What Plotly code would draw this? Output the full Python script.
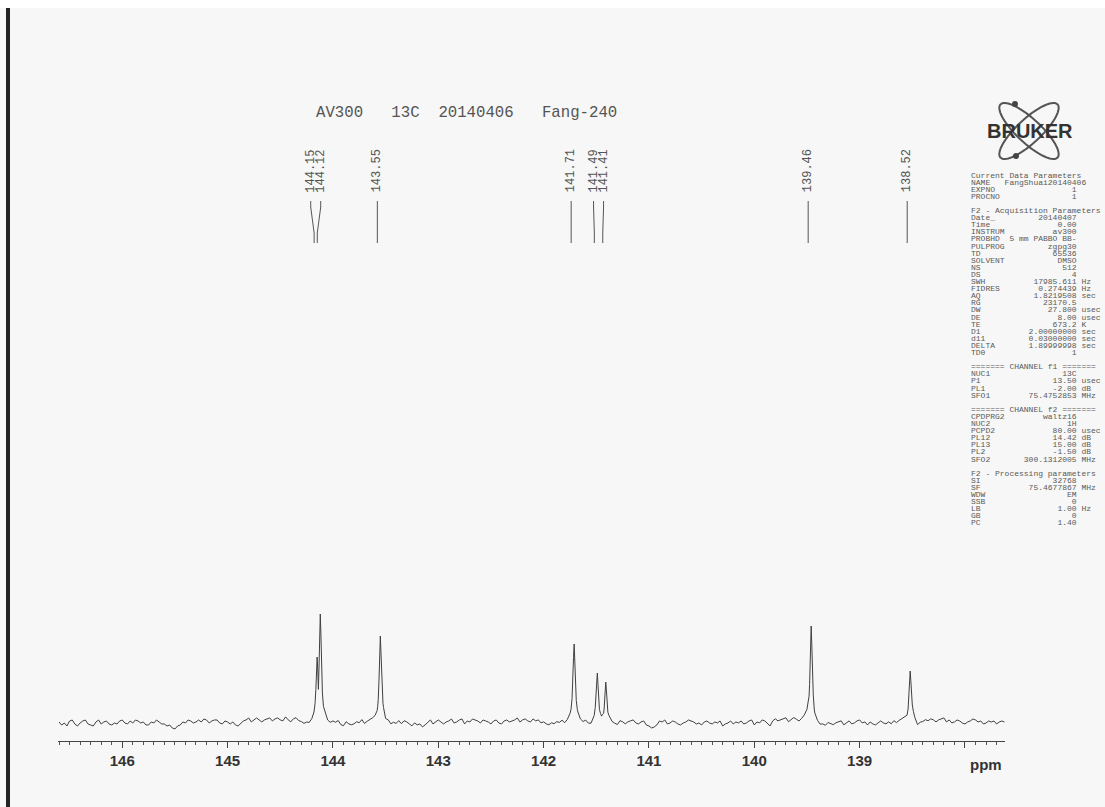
import numpy as np
import plotly.graph_objects as go

# ---------------- data ----------------
title_text = "AV300   13C  20140406   Fang-240"

peak_ppm = [144.15, 144.12, 143.55, 141.71, 141.49, 141.41, 139.46, 138.52]
peak_height = [65, 106, 84, 77, 47, 41, 94, 49]
peak_labels = ["144.15", "144.12", "143.55", "141.71", "141.49", "141.41", "139.46", "138.52"]

base_start = 146.60
base_step = 0.025
baseline = [
    1, -2, 0, -3, 2, 3, -1, -3, 0, 2, 3, -1, -2, -3, 1, 3, -1, 1, 2, -1,
    -2, 0, -1, 2, 3, 0, -1, 2, 0, 3, 2, 0, 1, -2, -2, 1, 0, 3, 1, -1,
    -1, -3, -2, -5, -6, -3, -2, 1, 0, 3, 2, 0, 1, 3, 1, 4, 3, 0, 2, 3,
    3, 0, -1, 2, 1, -1, 1, -2, -3, 0, 2, 3, 5, 1, 3, 5, 3, 1, 3, 4,
    5, 2, 4, 5, 3, 2, 6, 3, 1, 4, 5, 2, 1, -1, 0, -1, 1, 2, 1, 3,
    2, 4, 0, -1, 1, 0, 2, -2, -3, 1, -1, -2, -1, 1, 0, 3, -1, 1, 2, 3,
    3, 1, 3, 4, 0, 1, -2, 0, -1, 2, -1, 2, 1, -1, -3, 0, -2, -1, -4, -2,
    1, 3, -1, 1, 3, 1, -1, 1, 2, 4, 0, 1, 3, 4, -1, 2, 1, 4, 3, 2,
    0, 3, 2, 1, -1, 2, 3, 0, -1, 2, 3, 1, 2, 3, 5, 1, 3, 4, 2, 1,
    4, 2, 3, 0, 1, -1, -2, 0, -1, 1, 0, 2, -1, 1, 3, 4, 2, 3, 1, 0,
    2, -1, -2, 1, 3, 1, 3, -1, 0, 2, 0, -1, -2, 2, 1, -1, 1, 2, 3, 0,
    -1, 1, 2, -2, -3, -5, -4, -2, 2, 1, 3, -1, 0, 2, 1, -1, -2, 0, 1, 3,
    2, 1, -1, 0, -2, 1, 2, 0, -1, 1, 0, 2, -3, -1, 0, 2, -1, 1, 0, 2,
    -1, 0, 2, 3, -2, 1, 0, 3, 2, -1, -3, 2, 4, 2, 3, 4, 5, 1, 3, 5,
    3, 1, 3, 5, 6, 2, 3, 0, -1, -3, -2, -3, 0, -1, -2, 0, 1, 2, -2, 0,
    2, -1, 0, 2, 3, 0, 1, -2, 1, -1, -2, 0, 2, 0, -1, 1, -1, 2, 0, 2,
    3, 4, 1, 3, 5, 2, -3, 0, 1, 3, 2, 4, 3, 1, 3, 4, 5, 1, 3, 0,
    1, 3, 2, 0, -1, 1, 2, 4, 3, 1, 2, -1, 0, 2, 1, 2, -1, 1, 2, 1,
]

tick_vals = [146, 145, 144, 143, 142, 141, 140, 139, 138]
tick_text = ["146", "145", "144", "143", "142", "141", "140", "139", ""]
x_range = [146.61, 137.62]

param_current = [("NAME", "FangShuai20140406", ""), ("EXPNO", "1", ""), ("PROCNO", "1", "")]
param_acq = [
    ("Date_", "20140407", ""), ("Time", "0.00", ""), ("INSTRUM", "av300", ""),
    ("PROBHD", "5 mm PABBO BB-", ""), ("PULPROG", "zgpg30", ""), ("TD", "65536", ""),
    ("SOLVENT", "DMSO", ""), ("NS", "512", ""), ("DS", "4", ""),
    ("SWH", "17985.611", "Hz"), ("FIDRES", "0.274439", "Hz"), ("AQ", "1.8219508", "sec"),
    ("RG", "23170.5", ""), ("DW", "27.800", "usec"), ("DE", "8.00", "usec"),
    ("TE", "673.2", "K"), ("D1", "2.00000000", "sec"), ("d11", "0.03000000", "sec"),
    ("DELTA", "1.89999998", "sec"), ("TD0", "1", ""),
]
param_f1 = [("NUC1", "13C", ""), ("P1", "13.50", "usec"), ("PL1", "-2.00", "dB"),
            ("SFO1", "75.4752853", "MHz")]
param_f2 = [("CPDPRG2", "waltz16", ""), ("NUC2", "1H", ""), ("PCPD2", "80.00", "usec"),
            ("PL12", "14.42", "dB"), ("PL13", "15.00", "dB"), ("PL2", "-1.50", "dB"),
            ("SFO2", "300.1312005", "MHz")]
param_proc = [("SI", "32768", ""), ("SF", "75.4677867", "MHz"), ("WDW", "EM", ""),
              ("SSB", "0", ""), ("LB", "1.00", "Hz"), ("GB", "0", ""), ("PC", "1.40", "")]

# ---------------- geometry helpers ----------------
FW, FH = 1105, 807
L, R, T, B = 58, 1005, 60, 741
W, H = R - L, B - T


def pxx(x):
    return (x - L) / W


def pxy(y):
    return (B - y) / H


ppm_per_px = (x_range[0] - x_range[1]) / W

# ---------------- spectrum ----------------
base_x = np.array([base_start - i * base_step for i in range(len(baseline))])
base_y = np.array(baseline, dtype=float)
lw = 0.012  # Lorentzian half width (ppm), line shape only
offsets = [0, 0.006, -0.006, 0.012, -0.012, 0.02, -0.02, 0.03, -0.03]
xs = set(np.round(base_x, 4))
for p in peak_ppm:
    for o in offsets:
        xs.add(round(p + o, 4))
xs = np.array(sorted(xs, reverse=True))


def spec_val(x):
    bi = int(np.argmin(np.abs(base_x - x)))
    contrib = [h / (1 + ((x - p) / lw) ** 2) for p, h in zip(peak_ppm, peak_height)]
    return base_y[bi] + max(contrib)


ys = np.array([spec_val(x) for x in xs])

fig = go.Figure()
fig.add_trace(go.Scatter(x=xs, y=ys, mode="lines", line=dict(color="#404040", width=1),
                         hoverinfo="skip", showlegend=False))

# ---------------- peak labels ----------------
sep = 10 * ppm_per_px
shift = 3 * ppm_per_px
order = sorted(range(len(peak_ppm)), key=lambda i: -peak_ppm[i])
clusters = [[order[0]]]
for i in order[1:]:
    if peak_ppm[clusters[-1][-1]] - peak_ppm[i] < sep:
        clusters[-1].append(i)
    else:
        clusters.append([i])
label_pos = {}
for c in clusters:
    m = np.mean([peak_ppm[i] for i in c])
    n = len(c)
    for k, i in enumerate(c):
        label_pos[i] = m + ((n - 1) / 2 - k) * sep

annotations = []
shapes = []
for i, p in enumerate(peak_ppm):
    lx = label_pos[i] + shift
    bx = p + shift
    annotations.append(dict(x=lx, y=pxy(171), xref="x", yref="paper", text=peak_labels[i],
                            textangle=-90, showarrow=False, xanchor="center", yanchor="middle",
                            font=dict(family="Liberation Mono", size=12, color="#555555")))
    path = (f"M {lx},{pxy(201)} L {lx},{pxy(207)} L {bx},{pxy(233)} L {bx},{pxy(243)}")
    shapes.append(dict(type="path", xref="x", yref="paper", path=path,
                       line=dict(color="#555555", width=1)))

# title
annotations.append(dict(x=pxx(466), y=pxy(113), xref="paper", yref="paper", text=title_text,
                        showarrow=False, xanchor="center", yanchor="middle",
                        font=dict(family="Liberation Mono", size=15.7, color="#555555")))
# ppm label
annotations.append(dict(x=pxx(1004), y=pxy(764), xref="paper", yref="paper", text="ppm",
                        showarrow=False, xanchor="right", yanchor="middle",
                        font=dict(family="Liberation Sans", size=15, color="#333333", weight="bold")))

# ---------------- parameter block ----------------
COL = 22


def fmt(name, value, unit):
    pad = max(1, COL - len(name) - len(value))
    s = name + " " * pad + value
    if unit:
        s += " " + unit
    return s


lines = ["Current Data Parameters"]
lines.append("NAME" + "   " + param_current[0][1])
lines += [fmt(*r) for r in param_current[1:]]
lines.append("")
lines.append("F2 - Acquisition Parameters")
lines += [fmt(*r) for r in param_acq]
lines.append("")
lines.append("======= CHANNEL f1 =======")
lines += [fmt(*r) for r in param_f1]
lines.append("")
lines.append("======= CHANNEL f2 =======")
lines += [fmt(*r) for r in param_f2]
lines.append("")
lines.append("F2 - Processing parameters")
lines += [fmt(*r) for r in param_proc]

y0 = 175
dy = 7.1
for k, s in enumerate(lines):
    if not s:
        continue
    annotations.append(dict(x=pxx(969), y=pxy(y0 + k * dy), xref="paper", yref="paper",
                            text=s.replace(" ", "&nbsp;"), showarrow=False, xanchor="left",
                            yanchor="middle",
                            font=dict(family="Liberation Mono", size=8, color="#5a5a5a")))

# ---------------- Bruker logo ----------------
cx, cy, a, b = 1029, 131, 39, 12
for ang in (43, -43):
    th = np.deg2rad(ang)
    pts = []
    for t in np.linspace(0, 2 * np.pi, 73):
        ex, ey = a * np.cos(t), b * np.sin(t)
        X = cx + ex * np.cos(th) - ey * np.sin(th)
        Y = cy + ex * np.sin(th) + ey * np.cos(th)
        pts.append(f"{pxx(X):.5f},{pxy(Y):.5f}")
    shapes.append(dict(type="path", xref="paper", yref="paper",
                       path="M " + " L ".join(pts) + " Z",
                       line=dict(color="#555555", width=2)))
for (dx, dyy) in [(1015, 104), (1016, 156)]:
    shapes.append(dict(type="circle", xref="paper", yref="paper",
                       x0=pxx(dx - 3), x1=pxx(dx + 3), y0=pxy(dyy + 3), y1=pxy(dyy - 3),
                       fillcolor="#444444", line=dict(width=0)))
annotations.append(dict(x=pxx(1030), y=pxy(131), xref="paper", yref="paper", text="BRUKER",
                        showarrow=False, xanchor="center", yanchor="middle",
                        font=dict(family="Liberation Sans", size=20, color="#333333", weight="bold")))

# ---------------- page decorations ----------------
shapes.append(dict(type="rect", xref="paper", yref="paper", x0=pxx(0), x1=pxx(FW),
                   y0=pxy(8), y1=pxy(0), fillcolor="#ffffff", line=dict(width=0), layer="below"))
shapes.append(dict(type="rect", xref="paper", yref="paper", x0=pxx(6), x1=pxx(10),
                   y0=pxy(FH), y1=pxy(8), fillcolor="#222222", line=dict(width=0)))

fig.update_layout(
    width=FW, height=FH,
    margin=dict(l=L, r=FW - R, t=T, b=FH - B, pad=0),
    paper_bgcolor="#f6f7f6", plot_bgcolor="#f6f7f6",
    showlegend=False,
    xaxis=dict(range=x_range, tickmode="array", tickvals=tick_vals, ticktext=tick_text,
               showline=True, linecolor="#444444", linewidth=1, ticks="outside", ticklen=6,
               tickcolor="#444444", showgrid=False, zeroline=False,
               tickfont=dict(family="Liberation Sans", size=15, color="#333333", weight="bold"),
               minor=dict(tickmode="linear", tick0=0, dtick=0.1, ticks="outside", ticklen=3,
                          tickcolor="#555555", showgrid=False)),
    yaxis=dict(range=[-18, 663], visible=False, showgrid=False, zeroline=False),
    annotations=annotations,
    shapes=shapes,
)

fig.write_html("out.html", config={"displayModeBar": False},
               post_script="document.body.style.margin='0px';")
